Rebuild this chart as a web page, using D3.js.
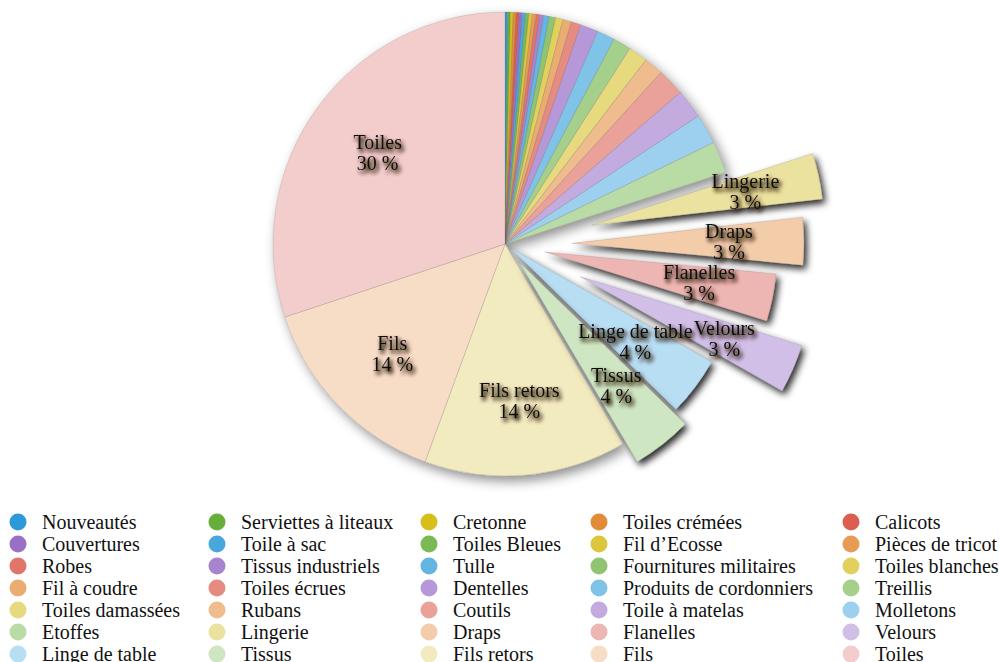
<!DOCTYPE html>
<html>
<head>
<meta charset="utf-8">
<script src="https://cdn.jsdelivr.net/npm/d3@7"></script>
<style>
html,body{margin:0;padding:0;background:#fff;}
svg{display:block;}
text{font-family:"Liberation Serif","Times New Roman",serif;fill:#111;}
</style>
</head>
<body>
<svg id="chart" width="999" height="662"></svg>
<script>
// ---- data ----
const categories = [
  "Nouveautés","Serviettes à liteaux","Cretonne","Toiles crémées","Calicots",
  "Couvertures","Toile à sac","Toiles Bleues","Fil d’Ecosse","Pièces de tricot",
  "Robes","Tissus industriels","Tulle","Fournitures militaires","Toiles blanches",
  "Fil à coudre","Toiles écrues","Dentelles","Produits de cordonniers","Treillis",
  "Toiles damassées","Rubans","Coutils","Toile à matelas","Molletons",
  "Etoffes","Lingerie","Draps","Flanelles","Velours",
  "Linge de table","Tissus","Fils retors","Fils","Toiles"
];
const values = [
  0.18,0.19,0.20,0.20,0.21,
  0.22,0.22,0.23,0.24,0.25,
  0.26,0.28,0.38,0.45,0.52,
  0.60,0.67,1.25,1.25,1.25,
  1.35,1.35,1.90,2.05,2.10,
  2.20,3.20,3.30,3.30,3.40,
  4.10,4.20,14.10,14.30,30.10
];
const explodedSlices = ["Lingerie","Draps","Flanelles","Velours","Linge de table","Tissus"];

// ---- styling / layout ----
const explodeOffset = {"Lingerie":89,"Draps":67,"Flanelles":41,"Velours":82,"Linge de table":6,"Tissus":23};
const hueBase  = ["#2c9ad8","#62ad35","#d4bb10","#e0842a","#d8513f","#8f5fc0"];
const hueLight = ["#cbe7f7","#d8ecce","#f4eecb","#f8dfcb","#f3cccc","#dcd0ef"];
const cx = 505, cy = 244, R = 232, labelR = 157;
const labelThreshold = 2.5;

const data = categories.map((name, i) => ({name, value: values[i], index: i}));
const total = d3.sum(values);
const color = (i) => d3.interpolateRgb(hueBase[i % 6], hueLight[i % 6])(i / (categories.length - 1));

const svg = d3.select("#chart");
const defs = svg.append("defs");

function dropShadow(id, dx, dy, sd, op, col) {
  const f = defs.append("filter").attr("id", id)
    .attr("x", "-30%").attr("y", "-30%").attr("width", "160%").attr("height", "160%");
  f.append("feDropShadow").attr("dx", dx).attr("dy", dy).attr("stdDeviation", sd)
    .attr("flood-color", col || "#000").attr("flood-opacity", op);
}
dropShadow("pieShadow", 4, 5, 6, 0.45);
dropShadow("sliceShadow", 3, 4, 3.5, 0.85);

// stronger text halo shadow
const tf = defs.append("filter").attr("id", "textShadow")
  .attr("x", "-20%").attr("y", "-40%").attr("width", "140%").attr("height", "180%");
tf.append("feGaussianBlur").attr("in", "SourceAlpha").attr("stdDeviation", 2.2).attr("result", "b");
tf.append("feOffset").attr("in", "b").attr("dx", 2).attr("dy", 3).attr("result", "o");
tf.append("feFlood").attr("flood-color", "#2a1810").attr("flood-opacity", 1).attr("result", "c");
tf.append("feComposite").attr("in", "c").attr("in2", "o").attr("operator", "in").attr("result", "s");
tf.append("feComponentTransfer").attr("in", "s").attr("result", "s2")
  .append("feFuncA").attr("type", "linear").attr("slope", 1.6);
const tm = tf.append("feMerge");
tm.append("feMergeNode").attr("in", "s2");
tm.append("feMergeNode").attr("in", "SourceGraphic");

const pie = d3.pie().sort(null).value(d => d.value).startAngle(0).endAngle(2 * Math.PI);
const arcs = pie(data);
const arc = d3.arc().innerRadius(0).outerRadius(R);
const labelArc = d3.arc().innerRadius(labelR).outerRadius(labelR);

function offsetOf(d) {
  const o = explodeOffset[d.data.name] || 0;
  const a = (d.startAngle + d.endAngle) / 2;
  return [o * Math.sin(a), -o * Math.cos(a)];
}

const g = svg.append("g").attr("transform", `translate(${cx},${cy})`);

// main (non-exploded) slices grouped under one shadow
const mainG = g.append("g").attr("filter", "url(#pieShadow)");
mainG.selectAll("path")
  .data(arcs.filter(d => !explodedSlices.includes(d.data.name)))
  .join("path")
  .attr("d", arc)
  .attr("fill", d => color(d.data.index))
  .attr("stroke", "rgba(90,90,90,0.35)")
  .attr("stroke-width", 0.5);

// exploded slices
g.selectAll("path.exploded")
  .data(arcs.filter(d => explodedSlices.includes(d.data.name)))
  .join("path")
  .attr("class", "exploded")
  .attr("transform", d => { const [x, y] = offsetOf(d); return `translate(${x},${y})`; })
  .attr("d", arc)
  .attr("fill", d => color(d.data.index))
  .attr("stroke", "rgba(90,90,90,0.35)")
  .attr("stroke-width", 0.5)
  .attr("filter", "url(#sliceShadow)");

// labels
const labG = g.append("g").attr("filter", "url(#textShadow)");
arcs.filter(d => d.data.value / total * 100 >= labelThreshold).forEach(d => {
  const [ox, oy] = offsetOf(d);
  const [lx, ly] = labelArc.centroid(d);
  const t = labG.append("text")
    .attr("text-anchor", "middle")
    .attr("font-size", 20);
  t.append("tspan").attr("x", lx + ox).attr("y", ly + oy - 3.5).text(d.data.name);
  t.append("tspan").attr("x", lx + ox).attr("y", ly + oy + 17.5)
    .text(Math.round(d.data.value / total * 100) + " %");
});

// legend
const legendCols = [18, 217, 429, 599, 851];
const legendTop = 522, legendStep = 22, nCols = 5;
const leg = svg.append("g");
data.forEach((d, i) => {
  const c = i % nCols, r = Math.floor(i / nCols);
  const x = legendCols[c], y = legendTop + r * legendStep;
  leg.append("circle").attr("cx", x).attr("cy", y).attr("r", 8.5).attr("fill", color(i));
  leg.append("text").attr("x", x + 24).attr("y", y + 7)
    .attr("font-size", 20).text(d.name);
});
</script>
</body>
</html>
